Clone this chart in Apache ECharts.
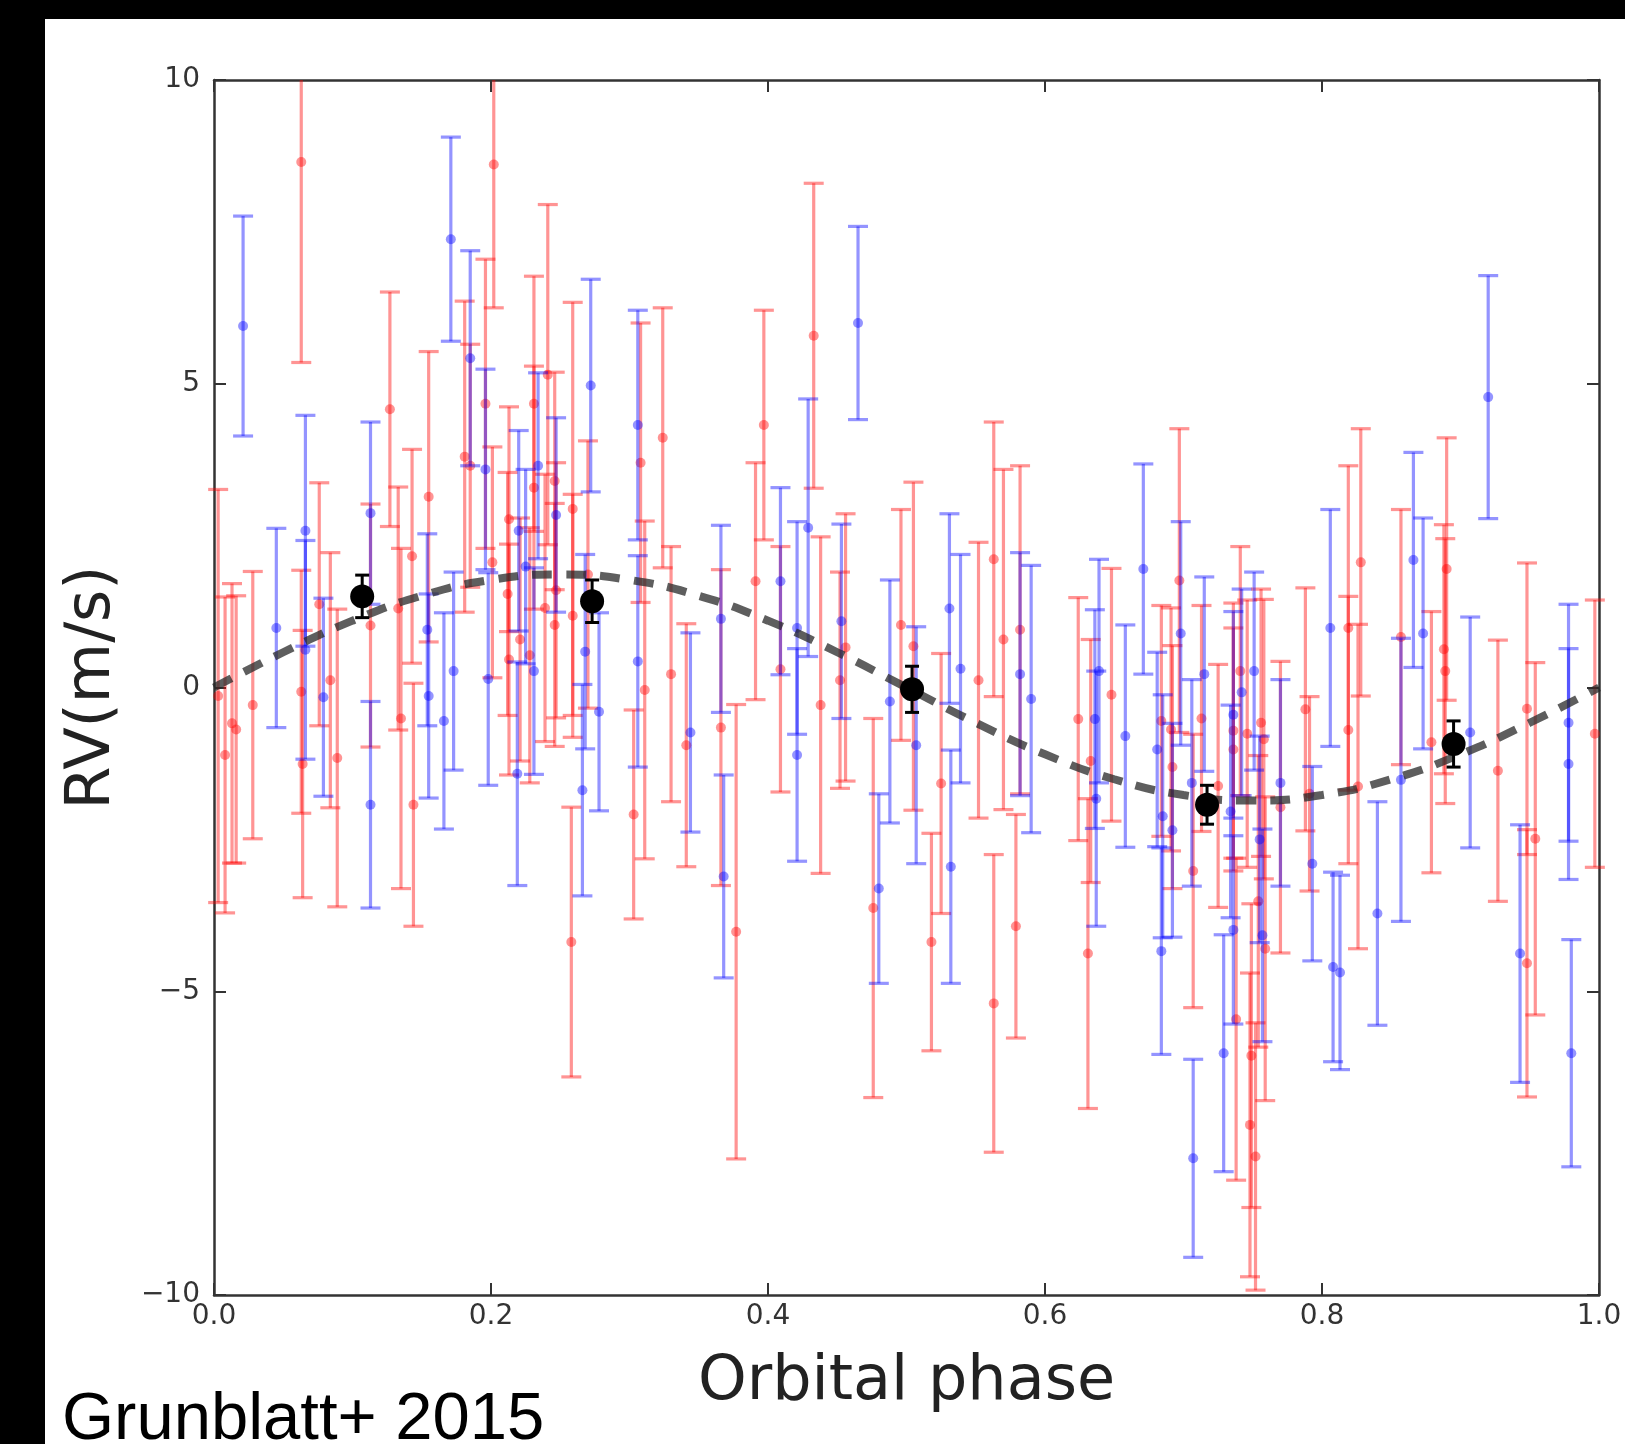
<!DOCTYPE html>
<html>
<head>
<meta charset="utf-8">
<script src="https://cdn.jsdelivr.net/npm/echarts@6/dist/echarts.min.js"></script>
<style>
  html, body { margin: 0; padding: 0; background: #fff; }
  #chart { width: 1625px; height: 1444px; }
</style>
</head>
<body>
<div id="chart"></div>
<script>
// [phase, RV (m/s), error (m/s)]
const redPoints = [
  [0.003, -0.14, 3.4], [0.008, -1.11, 2.6], [0.013, -0.59, 2.3], [0.016, -0.69, 2.2],
  [0.028, -0.29, 2.2], [0.063, 8.65, 3.3], [0.063, -0.07, 2.0], [0.064, -1.26, 2.2],
  [0.076, 1.37, 2.0], [0.084, 0.12, 2.1], [0.089, -1.16, 2.45], [0.113, 1.02, 2.0],
  [0.127, 4.58, 1.93], [0.133, 1.30, 2.0], [0.135, -0.51, 2.8], [0.143, 2.16, 1.76],
  [0.144, -1.93, 2.0], [0.155, 3.14, 2.39], [0.181, 3.80, 2.56], [0.185, 3.65, 2.0],
  [0.196, 4.67, 2.38], [0.201, 2.06, 1.9], [0.202, 8.61, 2.36], [0.212, 1.54, 2.0],
  [0.213, 2.77, 1.85], [0.213, 0.46, 1.9], [0.221, 0.79, 2.0], [0.228, 0.53, 2.1],
  [0.231, 4.67, 2.1], [0.231, 3.29, 2.0], [0.239, 1.31, 2.2], [0.241, 5.15, 2.8],
  [0.246, 3.40, 1.79], [0.246, 1.03, 2.0], [0.247, 1.60, 2.1], [0.258, -4.19, 2.22],
  [0.259, 2.94, 3.4], [0.259, 1.18, 2.0], [0.270, 1.86, 2.2], [0.303, -2.09, 1.72],
  [0.308, 3.70, 2.3], [0.311, -0.04, 2.78], [0.324, 4.11, 2.14], [0.330, 0.22, 2.1],
  [0.341, -0.95, 2.0], [0.366, -0.66, 2.6], [0.377, -4.02, 3.74], [0.391, 1.75, 1.95],
  [0.397, 4.32, 1.89], [0.409, 0.30, 2.02], [0.433, 5.79, 2.51], [0.438, -0.29, 2.77],
  [0.452, 0.12, 1.78], [0.456, 0.66, 2.2], [0.476, -3.63, 3.12], [0.496, 1.03, 1.9],
  [0.505, 0.68, 2.7], [0.518, -4.19, 1.79], [0.525, -1.58, 2.14], [0.552, 0.12, 2.27],
  [0.563, 2.11, 2.26], [0.563, -5.20, 2.45], [0.570, 0.79, 2.8], [0.579, -3.93, 1.84],
  [0.582, 0.95, 2.7], [0.624, -0.52, 2.0], [0.631, -4.38, 2.55], [0.633, -1.21, 2.0],
  [0.648, -0.12, 2.08], [0.684, -0.55, 1.9], [0.691, -0.69, 2.0], [0.692, -1.31, 2.0],
  [0.697, 1.76, 2.5], [0.707, -3.02, 2.25], [0.713, -0.51, 1.86], [0.725, -1.62, 2.0],
  [0.736, -0.71, 2.1], [0.736, -1.02, 2.0], [0.738, -5.46, 2.65], [0.741, 0.27, 2.05],
  [0.746, -0.76, 2.2], [0.748, -7.20, 2.5], [0.749, -6.06, 2.5], [0.752, -7.72, 2.2],
  [0.754, -3.52, 2.4], [0.756, -0.58, 2.2], [0.758, -0.85, 2.3], [0.759, -4.30, 2.5],
  [0.770, -1.97, 2.4], [0.788, -0.36, 2.0], [0.791, -1.75, 1.6], [0.819, 0.98, 2.67],
  [0.819, -0.70, 2.2], [0.826, -1.63, 2.67], [0.828, 2.06, 2.2], [0.857, 0.83, 2.1],
  [0.879, -0.90, 2.15], [0.888, 0.63, 2.05], [0.889, 0.27, 2.18], [0.890, 1.95, 2.16],
  [0.927, -1.37, 2.15], [0.948, -0.35, 2.4], [0.948, -4.54, 2.2], [0.954, -2.49, 2.9],
  [0.997, -0.76, 2.2]
];
const bluePoints = [
  [0.021, 5.95, 1.81], [0.045, 0.98, 1.64], [0.066, 2.58, 1.9], [0.066, 0.62, 1.8],
  [0.079, -0.16, 1.63], [0.113, 2.87, 1.5], [0.113, -1.93, 1.7], [0.154, 0.95, 1.58],
  [0.155, -0.14, 1.68], [0.166, -0.55, 1.78], [0.171, 7.38, 1.68], [0.173, 0.27, 1.63],
  [0.185, 5.42, 1.77], [0.196, 3.59, 1.65], [0.198, 0.14, 1.75], [0.219, -1.42, 1.84],
  [0.220, 2.58, 1.65], [0.225, 1.99, 1.6], [0.231, 0.27, 1.7], [0.234, 3.65, 1.53],
  [0.247, 2.84, 1.6], [0.266, -1.69, 1.74], [0.268, 0.59, 1.6], [0.272, 4.97, 1.75],
  [0.278, -0.40, 1.63], [0.306, 4.32, 1.89], [0.306, 0.43, 1.74], [0.344, -0.74, 1.64],
  [0.366, 1.13, 1.54], [0.368, -3.11, 1.67], [0.409, 1.75, 1.54], [0.421, 0.98, 1.75],
  [0.421, -1.11, 1.75], [0.429, 2.63, 2.12], [0.453, 1.09, 1.6], [0.465, 6.00, 1.59],
  [0.480, -3.31, 1.56], [0.488, -0.23, 2.0], [0.507, -0.95, 1.95], [0.531, 1.30, 1.56],
  [0.532, -2.95, 1.92], [0.539, 0.31, 1.88], [0.582, 0.22, 2.0], [0.590, -0.19, 2.2],
  [0.636, -0.52, 1.8], [0.637, -1.83, 2.1], [0.639, 0.27, 1.84], [0.658, -0.80, 1.83],
  [0.671, 1.95, 1.73], [0.681, -1.02, 1.6], [0.684, -4.34, 1.7], [0.685, -2.12, 2.0],
  [0.692, -2.35, 1.76], [0.698, 0.89, 1.84], [0.706, -1.57, 1.7], [0.707, -7.75, 1.63],
  [0.715, 0.22, 1.6], [0.729, -6.02, 1.95], [0.734, -2.04, 1.75], [0.736, -0.45, 1.7],
  [0.736, -3.99, 1.55], [0.742, -0.08, 1.7], [0.751, 0.27, 1.63], [0.755, -2.50, 1.7],
  [0.757, -4.08, 1.75], [0.770, -1.57, 1.7], [0.793, -2.90, 1.6], [0.806, 0.98, 1.95],
  [0.808, -4.60, 1.56], [0.813, -4.69, 1.6], [0.840, -3.72, 1.84], [0.857, -1.52, 2.33],
  [0.866, 2.10, 1.77], [0.873, 0.89, 1.9], [0.907, -0.74, 1.9], [0.920, 4.78, 2.0],
  [0.943, -4.38, 2.12], [0.978, -0.58, 1.95], [0.978, -1.26, 1.9], [0.980, -6.02, 1.87]
];
const binnedPoints = [
  [0.107, 1.50, 0.35], [0.273, 1.42, 0.35], [0.504, -0.03, 0.38], [0.717, -1.93, 0.32], [0.895, -0.93, 0.38]
];
const modelPhase = [0, 0.05, 0.1, 0.15, 0.2, 0.25, 0.3, 0.35, 0.4, 0.45, 0.5,
                    0.55, 0.6, 0.65, 0.7, 0.75, 0.8, 0.85, 0.9, 0.95, 1.0];
const modelRV = [0, 0.58, 1.10, 1.51, 1.77, 1.86, 1.77, 1.51, 1.10, 0.58, 0,
                 -0.58, -1.10, -1.51, -1.77, -1.86, -1.77, -1.51, -1.10, -0.58, 0];

const Y_MIN = -10, Y_MAX = 10;

function makeErrRender(color, capHalf, lw, r) {
  return function (params, api) {
    const x = api.value(0), y = api.value(1), e = api.value(2);
    const hi = Math.min(y + e, Y_MAX), lo = Math.max(y - e, Y_MIN);
    const pTop = api.coord([x, hi]);
    const pBot = api.coord([x, lo]);
    const pc = api.coord([x, y]);
    const children = [{
      type: 'line',
      shape: { x1: pTop[0], y1: pTop[1], x2: pBot[0], y2: pBot[1] },
      style: { stroke: color, lineWidth: lw }
    }];
    if (y + e <= Y_MAX) children.push({
      type: 'line',
      shape: { x1: pTop[0] - capHalf, y1: pTop[1], x2: pTop[0] + capHalf, y2: pTop[1] },
      style: { stroke: color, lineWidth: lw }
    });
    if (y - e >= Y_MIN) children.push({
      type: 'line',
      shape: { x1: pBot[0] - capHalf, y1: pBot[1], x2: pBot[0] + capHalf, y2: pBot[1] },
      style: { stroke: color, lineWidth: lw }
    });
    children.push({
      type: 'circle',
      shape: { cx: pc[0], cy: pc[1], r: r },
      style: { fill: color }
    });
    return { type: 'group', children: children };
  };
}

const tickFont = { fontFamily: 'DejaVu Sans', fontSize: 28, color: '#333' };
const frameLine = { show: true, onZero: false, lineStyle: { color: '#333', width: 2.5 } };
const innerTick = { show: true, inside: true, length: 12, lineStyle: { color: '#333', width: 2 } };
const minusFmt = v => (v < 0 ? '\u2212' + Math.abs(v) : String(v));

const chart = echarts.init(document.getElementById('chart'), null, { renderer: 'canvas' });
chart.setOption({
  backgroundColor: '#ffffff',
  animation: false,
  grid: { left: 214, top: 80, width: 1385, height: 1215, containLabel: false },
  xAxis: [
    {
      type: 'value', min: 0, max: 1, interval: 0.2, position: 'bottom',
      axisLine: frameLine, axisTick: innerTick, splitLine: { show: false },
      axisLabel: Object.assign({ margin: 8, formatter: v => v.toFixed(1) }, tickFont),
      name: 'Orbital phase', nameLocation: 'middle', nameGap: 57,
      nameTextStyle: { fontFamily: 'DejaVu Sans', fontSize: 62, color: '#222' }
    },
    {
      type: 'value', min: 0, max: 1, interval: 0.2, position: 'top',
      axisLine: frameLine, axisTick: innerTick, splitLine: { show: false },
      axisLabel: { show: false }
    }
  ],
  yAxis: [
    {
      type: 'value', min: -10, max: 10, interval: 5, position: 'left',
      axisLine: frameLine, axisTick: innerTick, splitLine: { show: false },
      axisLabel: Object.assign({ margin: 14, formatter: minusFmt }, tickFont),
      name: 'RV(m/s)', nameLocation: 'middle', nameGap: 90, nameRotate: 90,
      nameTextStyle: { fontFamily: 'DejaVu Sans', fontSize: 62, color: '#222' }
    },
    {
      type: 'value', min: -10, max: 10, interval: 5, position: 'right',
      axisLine: frameLine, axisTick: innerTick, splitLine: { show: false },
      axisLabel: { show: false }
    }
  ],
  graphic: [
    { type: 'rect', shape: { x: 0, y: 0, width: 1625, height: 19 }, style: { fill: '#000' } },
    { type: 'rect', shape: { x: 0, y: 0, width: 45, height: 1444 }, style: { fill: '#000' } },
    {
      type: 'text', left: 62, top: 1387,
      style: { text: 'Grunblatt+ 2015', font: '67px "Liberation Sans", Arial, sans-serif', fill: '#000' }
    }
  ],
  series: [
    {
      name: 'Red RVs', type: 'custom', data: redPoints, z: 2,
      renderItem: makeErrRender('rgba(255,0,0,0.42)', 10, 3.2, 5)
    },
    {
      name: 'Blue RVs', type: 'custom', data: bluePoints, z: 3,
      renderItem: makeErrRender('rgba(0,0,255,0.42)', 10, 3.2, 5)
    },
    {
      name: 'Model', type: 'line', smooth: true, symbol: 'none', z: 4,
      data: modelPhase.map((p, i) => [p, modelRV[i]]),
      lineStyle: { type: [20, 14], width: 8, color: 'rgba(40,40,40,0.75)' }
    },
    {
      name: 'Binned', type: 'custom', data: binnedPoints, z: 5,
      renderItem: makeErrRender('#000', 7, 3, 12)
    }
  ]
});
</script>
</body>
</html>
